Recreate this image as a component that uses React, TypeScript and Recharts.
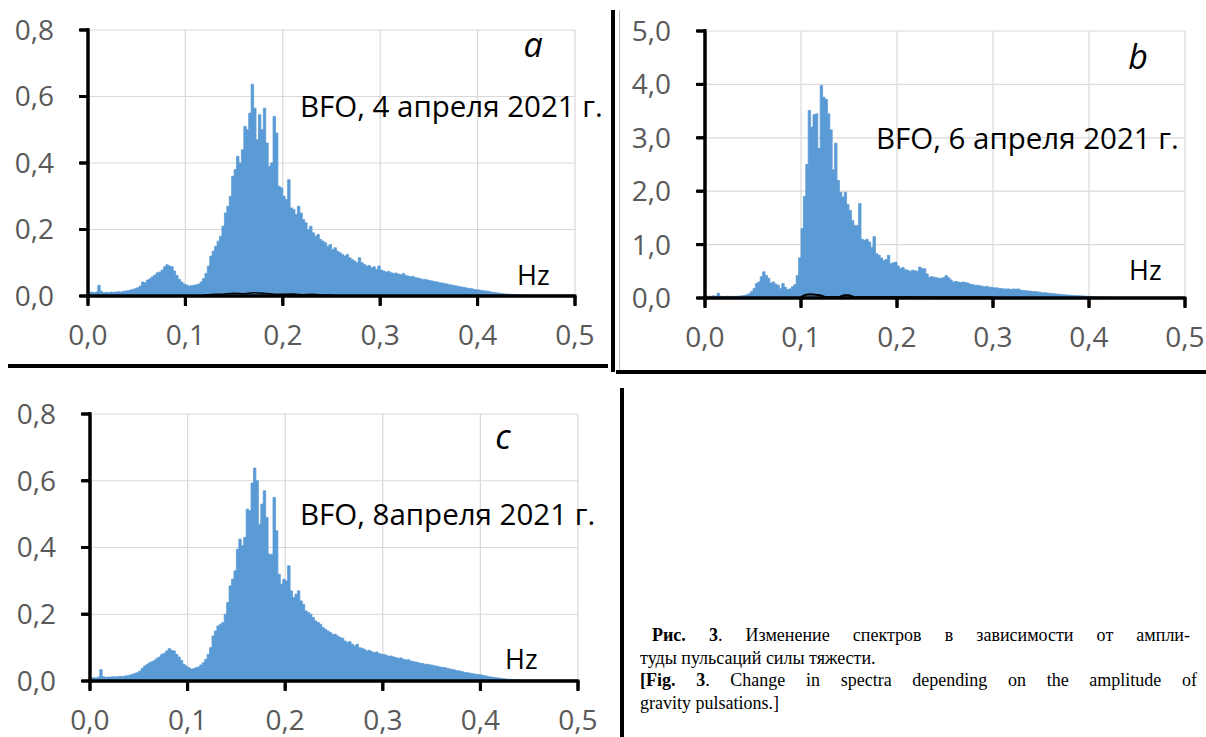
import React from 'react';
import { ComposedChart, Area, Line, XAxis, YAxis, CartesianGrid } from 'recharts';

const BLUE = '#5B9BD5';
const TICK_GREY = '#595959';
const FONT = '"Open Sans", "Noto Sans", sans-serif';
const SERIF = '"Liberation Serif", "Times New Roman", serif';

// amplitude spectra sampled every 0.0025 Hz from 0 to 0.5 Hz (201 values each)
const FREQ_STEP = 0.0025;
const FREQ_MAX = 0.5;
const FREQ_TICKS = [0, 0.1, 0.2, 0.3, 0.4, 0.5];
const AMP_TICKS_SMALL = [0, 0.2, 0.4, 0.6, 0.8];
const AMP_TICKS_LARGE = [0, 1, 2, 3, 4, 5];

// 4 April 2021
const spectrumApr4 = [
  0.010, 0.012, 0.010, 0.012, 0.032, 0.014, 0.010, 0.011, 0.010, 0.012, 0.011, 0.012, 0.013, 0.012, 0.014, 0.015, 0.016, 0.018, 0.020, 0.022,
  0.025, 0.030, 0.042, 0.040, 0.048, 0.052, 0.058, 0.063, 0.070, 0.072, 0.078, 0.088, 0.094, 0.090, 0.088, 0.075, 0.062, 0.050, 0.042, 0.036,
  0.033, 0.030, 0.031, 0.032, 0.034, 0.036, 0.042, 0.052, 0.068, 0.090, 0.120, 0.135, 0.150, 0.165, 0.180, 0.210, 0.250, 0.270, 0.300, 0.360,
  0.380, 0.420, 0.400, 0.440, 0.510, 0.500, 0.550, 0.637, 0.565, 0.470, 0.545, 0.500, 0.565, 0.460, 0.390, 0.400, 0.540, 0.490, 0.330, 0.325,
  0.300, 0.290, 0.350, 0.265, 0.260, 0.245, 0.270, 0.250, 0.230, 0.220, 0.200, 0.210, 0.190, 0.180, 0.185, 0.170, 0.165, 0.160, 0.150, 0.155,
  0.140, 0.145, 0.135, 0.130, 0.125, 0.120, 0.125, 0.115, 0.110, 0.105, 0.100, 0.115, 0.100, 0.095, 0.090, 0.092, 0.085, 0.088, 0.080, 0.090,
  0.078, 0.075, 0.072, 0.074, 0.070, 0.068, 0.069, 0.066, 0.064, 0.068, 0.062, 0.060, 0.058, 0.059, 0.055, 0.054, 0.052, 0.050, 0.050, 0.048,
  0.046, 0.045, 0.043, 0.042, 0.040, 0.039, 0.037, 0.036, 0.034, 0.033, 0.031, 0.030, 0.028, 0.027, 0.026, 0.024, 0.023, 0.022, 0.020, 0.019,
  0.018, 0.017, 0.016, 0.015, 0.014, 0.012, 0.011, 0.010, 0.009, 0.008, 0.007, 0.006, 0.006, 0.005, 0.005, 0.004, 0.004, 0.004, 0.003, 0.003,
  0.003, 0.003, 0.003, 0.003, 0.003, 0.003, 0.003, 0.003, 0.003, 0.003, 0.003, 0.003, 0.003, 0.003, 0.003, 0.003, 0.003, 0.003, 0.003, 0.003,
  0.003,
];

// 6 April 2021
const spectrumApr6 = [
  0.03, 0.035, 0.03, 0.04, 0.03, 0.09, 0.035, 0.03, 0.03, 0.032, 0.03, 0.03, 0.032, 0.033, 0.035, 0.04, 0.045, 0.06, 0.08, 0.12,
  0.18, 0.27, 0.30, 0.40, 0.49, 0.42, 0.37, 0.28, 0.30, 0.26, 0.24, 0.18, 0.27, 0.20, 0.16, 0.17, 0.21, 0.25, 0.42, 0.75,
  1.30, 1.90, 2.50, 3.51, 3.20, 3.43, 3.45, 2.80, 3.98, 3.76, 3.72, 3.45, 3.15, 2.40, 2.90, 2.20, 1.98, 1.89, 1.98, 1.75,
  1.64, 1.45, 1.36, 1.36, 1.77, 1.10, 1.08, 1.10, 1.05, 0.95, 1.15, 0.83, 0.80, 0.75, 0.70, 0.72, 0.80, 0.64, 0.66, 0.67,
  0.60, 0.55, 0.57, 0.53, 0.52, 0.50, 0.52, 0.51, 0.50, 0.58, 0.55, 0.55, 0.45, 0.39, 0.40, 0.39, 0.38, 0.37, 0.37, 0.38,
  0.42, 0.38, 0.34, 0.30, 0.31, 0.30, 0.29, 0.30, 0.29, 0.28, 0.26, 0.25, 0.24, 0.24, 0.23, 0.22, 0.21, 0.22, 0.20, 0.20,
  0.19, 0.19, 0.18, 0.18, 0.17, 0.17, 0.17, 0.16, 0.17, 0.165, 0.17, 0.15, 0.14, 0.14, 0.13, 0.13, 0.12, 0.12, 0.115, 0.11,
  0.10, 0.10, 0.095, 0.09, 0.085, 0.08, 0.075, 0.07, 0.065, 0.06, 0.058, 0.055, 0.05, 0.048, 0.045, 0.042, 0.04, 0.038, 0.035, 0.033,
  0.03, 0.028, 0.025, 0.022, 0.02, 0.018, 0.016, 0.015, 0.014, 0.013, 0.012, 0.012, 0.011, 0.011, 0.01, 0.01, 0.01, 0.01, 0.01, 0.01,
  0.01, 0.01, 0.01, 0.01, 0.01, 0.01, 0.01, 0.01, 0.01, 0.01, 0.01, 0.01, 0.01, 0.01, 0.01, 0.01, 0.01, 0.01, 0.01, 0.01,
  0.01,
];

// 8 April 2021
const spectrumApr8 = [
  0.008, 0.010, 0.009, 0.012, 0.034, 0.013, 0.011, 0.012, 0.012, 0.013, 0.012, 0.013, 0.014, 0.013, 0.015, 0.016, 0.018, 0.020, 0.023, 0.025,
  0.030, 0.038, 0.045, 0.050, 0.055, 0.058, 0.062, 0.068, 0.072, 0.080, 0.083, 0.090, 0.097, 0.092, 0.090, 0.080, 0.072, 0.062, 0.050, 0.045,
  0.040, 0.036, 0.037, 0.040, 0.042, 0.048, 0.055, 0.065, 0.080, 0.100, 0.135, 0.150, 0.165, 0.170, 0.175, 0.200, 0.235, 0.285, 0.305, 0.330,
  0.395, 0.425, 0.405, 0.430, 0.515, 0.510, 0.593, 0.638, 0.600, 0.470, 0.530, 0.570, 0.490, 0.380, 0.380, 0.550, 0.450, 0.320, 0.290, 0.305,
  0.300, 0.345, 0.270, 0.250, 0.260, 0.270, 0.240, 0.230, 0.210, 0.205, 0.200, 0.190, 0.180, 0.175, 0.170, 0.160, 0.155, 0.150, 0.145, 0.140,
  0.140, 0.135, 0.130, 0.128, 0.120, 0.115, 0.118, 0.110, 0.105, 0.110, 0.100, 0.098, 0.095, 0.090, 0.092, 0.088, 0.085, 0.087, 0.082, 0.080,
  0.080, 0.077, 0.074, 0.075, 0.072, 0.070, 0.068, 0.069, 0.065, 0.063, 0.064, 0.060, 0.058, 0.057, 0.055, 0.053, 0.052, 0.050, 0.050, 0.048,
  0.047, 0.045, 0.044, 0.042, 0.041, 0.040, 0.038, 0.036, 0.035, 0.033, 0.031, 0.030, 0.028, 0.026, 0.025, 0.024, 0.022, 0.021, 0.020, 0.019,
  0.018, 0.016, 0.015, 0.013, 0.012, 0.011, 0.010, 0.009, 0.008, 0.007, 0.006, 0.005, 0.005, 0.004, 0.004, 0.004, 0.003, 0.003, 0.003, 0.003,
  0.003, 0.003, 0.003, 0.003, 0.003, 0.003, 0.003, 0.003, 0.003, 0.003, 0.003, 0.003, 0.003, 0.003, 0.003, 0.003, 0.003, 0.003, 0.003, 0.003,
  0.003,
];

// weak background spectra drawn in black along the baseline
const quietFreqApr4 = [0.12, 0.13, 0.14, 0.15, 0.16, 0.17, 0.18, 0.19, 0.2, 0.21, 0.22, 0.23, 0.24, 0.25];
const quietApr4 = [0.003, 0.005, 0.006, 0.008, 0.007, 0.01, 0.008, 0.006, 0.005, 0.006, 0.004, 0.005, 0.003, 0.002];
const quietFreqApr6 = [0.1, 0.105, 0.11, 0.115, 0.12, 0.125, 0.13, 0.14, 0.145, 0.15, 0.155, 0.17, 0.2, 0.25, 0.3];
const quietApr6 = [0.02, 0.06, 0.07, 0.06, 0.05, 0.02, 0.015, 0.02, 0.05, 0.05, 0.02, 0.015, 0.012, 0.01, 0.008];

const comma = (v: number) => v.toFixed(1).replace('.', ',');

type Box = { left: number; top: number; right: number; bottom: number };

// thick black axis frame with outward tick marks, built from filled bars
function AxisFrame({ box, yMax, yTicks }: { box: Box; yMax: number; yTicks: number[] }) {
  const w = box.right - box.left;
  const h = box.bottom - box.top;
  const t = 3;
  return (
    <g fill="#000">
      <rect x={box.left - t / 2} y={box.top - 2} width={t} height={h + 2 + t / 2} />
      <rect x={box.left - t / 2} y={box.bottom - t / 2} width={w + t} height={t} />
      {FREQ_TICKS.map((f) => {
        const x = box.left + (f / FREQ_MAX) * w;
        return <rect key={'x' + f} x={x - t / 2} y={box.bottom} width={t} height={10} />;
      })}
      {yTicks.map((a) => {
        const y = box.bottom - (a / yMax) * h;
        return <rect key={'y' + a} x={box.left - 9} y={y - t / 2} width={9} height={t} />;
      })}
    </g>
  );
}

function Spectrum({
  box,
  values,
  yMax,
  yTicks,
  quietF,
  quietV,
  quietWidth = 1.5,
}: {
  box: Box;
  values: number[];
  yMax: number;
  yTicks: number[];
  quietF?: number[];
  quietV?: number[];
  quietWidth?: number;
}) {
  const width = box.right - box.left + 110;
  const height = box.bottom - box.top + 90;
  const rows = values.map((v, i) => ({ f: i * FREQ_STEP, v }));
  const quiet = quietF && quietV ? quietF.map((f, i) => ({ f, v: quietV[i] })) : null;
  const tick = { fill: TICK_GREY, fontSize: 28, fontFamily: FONT };

  return (
    <div style={{ position: 'absolute', left: box.left - 90, top: box.top - 30 }}>
      <ComposedChart width={width} height={height} data={rows} margin={{ top: 30, right: 20, left: 10, bottom: 5 }}>
        <CartesianGrid stroke="#d9d9d9" strokeWidth={1.2} />
        <Area
          dataKey="v"
          type="stepAfter"
          fill={BLUE}
          fillOpacity={1}
          stroke={BLUE}
          strokeWidth={0.8}
          dot={false}
          activeDot={false}
          isAnimationActive={false}
        />
        {quiet && (
          <Line
            data={quiet}
            dataKey="v"
            stroke="#000"
            strokeWidth={quietWidth}
            dot={false}
            activeDot={false}
            isAnimationActive={false}
          />
        )}
        <XAxis
          dataKey="f"
          type="number"
          domain={[0, FREQ_MAX]}
          ticks={FREQ_TICKS}
          interval={0}
          height={55}
          stroke="#000"
          strokeWidth={3}
          tickSize={9}
          tickMargin={20}
          tick={tick}
          tickFormatter={comma}
        />
        <YAxis
          type="number"
          domain={[0, yMax]}
          ticks={yTicks}
          interval={0}
          width={80}
          stroke="#000"
          strokeWidth={3}
          tickSize={8}
          tickMargin={26}
          tick={tick}
          tickFormatter={comma}
        />
      </ComposedChart>
    </div>
  );
}

// caption lines stretched to the column width, as in a justified paragraph
const justified: React.CSSProperties = { textAlign: 'justify', textAlignLast: 'justify', whiteSpace: 'nowrap' };

const BOX_A: Box = { left: 88, top: 30, right: 575, bottom: 296 };
const BOX_B: Box = { left: 705, top: 31, right: 1185, bottom: 298 };
const BOX_C: Box = { left: 90, top: 414, right: 578, bottom: 681 };

export default function App() {
  const label = { fontFamily: FONT, fill: '#000' };
  return (
    <div style={{ position: 'fixed', left: 0, top: 0, width: 1206, height: 737, background: '#fff', overflow: 'hidden' }}>
      <Spectrum box={BOX_A} values={spectrumApr4} yMax={0.8} yTicks={AMP_TICKS_SMALL} quietF={quietFreqApr4} quietV={quietApr4} />
      <Spectrum box={BOX_B} values={spectrumApr6} yMax={5} yTicks={AMP_TICKS_LARGE} quietF={quietFreqApr6} quietV={quietApr6} quietWidth={2} />
      <Spectrum box={BOX_C} values={spectrumApr8} yMax={0.8} yTicks={AMP_TICKS_SMALL} />

      <svg width={1206} height={737} style={{ position: 'absolute', left: 0, top: 0, pointerEvents: 'none' }}>
        <AxisFrame box={BOX_A} yMax={0.8} yTicks={AMP_TICKS_SMALL} />
        <AxisFrame box={BOX_B} yMax={5} yTicks={AMP_TICKS_LARGE} />
        <AxisFrame box={BOX_C} yMax={0.8} yTicks={AMP_TICKS_SMALL} />

        {/* panel frames */}
        <rect x={8} y={364} width={600} height={4} fill="#000" />
        <rect x={611} y={10} width={4} height={362} fill="#000" />
        <rect x={619} y={10} width={1} height={362} fill="#bbb" />
        <rect x={616} y={370} width={590} height={4} fill="#000" />
        <rect x={620} y={388} width={4} height={349} fill="#000" />

        {/* panel letters */}
        <text x={533} y={57} fontSize={34} fontStyle="italic" textAnchor="middle" {...label}>a</text>
        <text x={1138} y={69} fontSize={34} fontStyle="italic" textAnchor="middle" {...label}>b</text>
        <text x={503} y={449} fontSize={34} fontStyle="italic" textAnchor="middle" {...label}>c</text>

        <text x={300} y={117} fontSize={29.5} {...label}>BFO, 4 апреля 2021 г.</text>
        <text x={876} y={149} fontSize={29.5} {...label}>BFO, 6 апреля 2021 г.</text>
        <text x={300} y={525} fontSize={29.5} {...label}>BFO, 8апреля 2021 г.</text>

        <text x={517} y={285} fontSize={27} {...label}>Hz</text>
        <text x={1129} y={280} fontSize={27} {...label}>Hz</text>
        <text x={505} y={669} fontSize={27} {...label}>Hz</text>
      </svg>

      {/* figure caption */}
      <div style={{ position: 'absolute', left: 640, top: 624, width: 557, fontFamily: SERIF, fontSize: 18, lineHeight: '22.5px', color: '#000' }}>
        <div style={{ ...justified, paddingLeft: 12, width: 538 }}>
          <b>Рис. 3</b>. Изменение спектров в зависимости от ампли-
        </div>
        <div style={{ whiteSpace: 'nowrap' }}>туды пульсаций силы тяжести.</div>
        <div style={justified}>
          <b>[Fig. 3</b>. Change in spectra depending on the amplitude of
        </div>
        <div style={{ whiteSpace: 'nowrap' }}>gravity pulsations.]</div>
      </div>
    </div>
  );
}
